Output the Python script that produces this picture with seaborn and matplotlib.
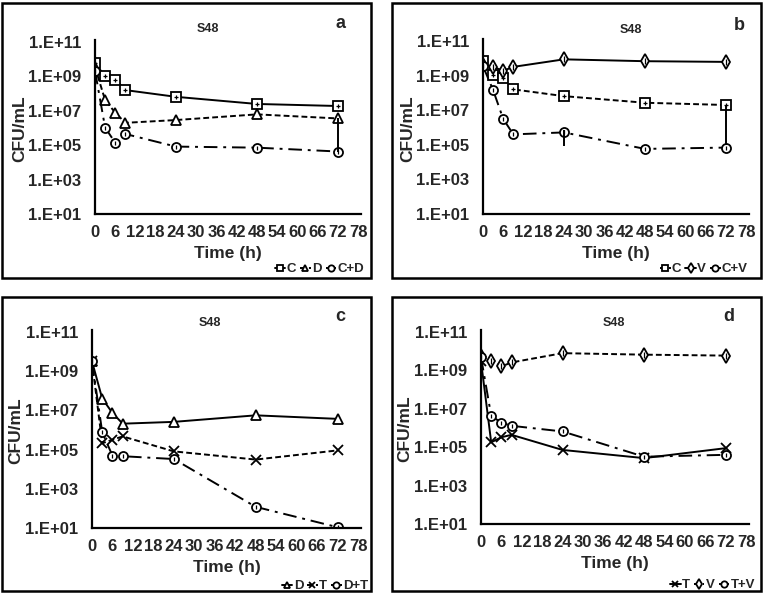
import numpy as np
import pandas as pd
import seaborn as sns
import matplotlib.pyplot as plt
from matplotlib.patches import Rectangle
from matplotlib.ticker import FixedLocator, FixedFormatter

# sampling times (h)
times = [0, 3, 6, 9, 24, 48, 72]

# panel a
a_C = [6.0e9, 1.0e9, 6.6e8, 1.6e8, 6.5e7, 2.5e7, 1.9e7]
a_D = [3.5e9, 4.2e7, 7.8e6, 2.0e6, 2.9e6, 6.2e6, 3.6e6]
a_CD = [2.1e9, 1.05e6, 1.4e5, 4.5e5, 8.3e4, 7.2e4, 4.3e4]
a_CD_err_up = [0, 0, 0, 0, 0, 0, 3.56e6]

# panel b
b_C = [6.8e9, 1.05e9, 7.4e8, 1.6e8, 6.5e7, 2.7e7, 2.0e7]
b_V = [4.0e9, 3.2e9, 1.9e9, 3.2e9, 8.7e9, 6.8e9, 6.2e9]
b_CV = [3.5e9, 1.45e8, 3.1e6, 4.0e5, 5.2e5, 5.8e4, 6.9e4]
b_CV_err_lo = [0, 0, 0, 0, 4.3e5, 0, 0]
b_CV_err_up = [0, 0, 0, 0, 1.8e5, 0, 0]
b_C_err_lo = [0, 0, 0, 0, 0, 0, 1.99e7]

# panel c
c_D = [3.2e9, 4.0e7, 7.4e6, 2.1e6, 2.6e6, 5.6e6, 3.7e6]
c_T = [3.2e9, 2.1e5, 3.2e5, 4.7e5, 8.1e4, 3.1e4, 9.1e4]
c_DT = [3.2e9, 7.6e5, 4.9e4, 4.6e4, 3.3e4, 1.2e2, 1.1e1]

# panel d
d_V = [5.4e9, 3.0e9, 1.6e9, 2.6e9, 7.9e9, 6.6e9, 5.9e9]
d_T = [3.0e9, 1.8e5, 3.3e5, 4.4e5, 7.2e4, 2.7e4, 8.9e4]
d_TV = [5.0e9, 4.3e6, 1.9e6, 1.3e6, 6.6e5, 3.2e4, 4.0e4]

ytick_vals = [1e1, 1e3, 1e5, 1e7, 1e9, 1e11]
ytick_labels = ["1.E+01", "1.E+03", "1.E+05", "1.E+07", "1.E+09", "1.E+11"]
xtick_vals = list(range(0, 79, 6))

sns.set_style("white")
plt.rcParams['font.family'] = ['Liberation Sans', 'DejaVu Sans']

W, H = 764, 593
fig = plt.figure(figsize=(W / 100, H / 100), dpi=100)

def px(x, y):
    return x / W, 1 - y / H

SOLID = '-'
DASH = (0, (3.0, 1.6))
DASHDOT = (0, (7, 3, 1.5, 3))

# small mark drawn inside the open marker, like the Excel symbols
INNER = {"s": "+", "o": "|", "d": "|", "^": None, "x": None}

def series(ax, vals, label, marker, ls, ms=6.5):
    df = pd.DataFrame({"Time": times, "CFU": vals})
    sns.lineplot(data=df, x="Time", y="CFU", ax=ax, color="black", linestyle=ls,
                 linewidth=1.4, marker=marker, markersize=ms, markerfacecolor="white",
                 markeredgecolor="black", markeredgewidth=1.3, label=label,
                 errorbar=None, legend=False)
    if INNER[marker]:
        ax.plot(times, vals, linestyle="none", marker=INNER[marker], markersize=ms * 0.55,
                markeredgecolor="black", markeredgewidth=0.9)

def setup(ax, S48_xy, letter, letter_xy, leg_xy):
    ax.set_yscale("log")
    ax.set_ylim(10, 1.3e11)
    ax.set_xlim(0, 79)
    ax.yaxis.set_major_locator(FixedLocator(ytick_vals))
    ax.yaxis.set_major_formatter(FixedFormatter(ytick_labels))
    ax.yaxis.set_minor_locator(FixedLocator([]))
    ax.set_xticks(xtick_vals)
    ax.tick_params(axis="both", length=0, labelsize=12)
    ax.tick_params(axis="y", pad=10)
    ax.tick_params(axis="x", pad=8)
    for lab in ax.get_xticklabels() + ax.get_yticklabels():
        lab.set_fontweight("bold")
    for s in ["top", "right"]:
        ax.spines[s].set_visible(False)
    for s in ["left", "bottom"]:
        ax.spines[s].set_color("black")
        ax.spines[s].set_linewidth(1.6)
    ax.set_facecolor("none")
    ax.set_xlabel("Time (h)", fontsize=12.5, fontweight="bold", labelpad=4)
    ax.set_ylabel("CFU/mL", fontsize=12.5, fontweight="bold")
    ax.yaxis.set_label_coords(-0.255, 0.49)
    ax.grid(False)
    fig.text(*px(*S48_xy), "S48", fontsize=9, fontweight="bold", ha="center", va="center")
    fig.text(*px(*letter_xy), letter, fontsize=13, fontweight="bold", ha="center", va="center")
    h, l = ax.get_legend_handles_labels()
    ax.legend(h, l, loc="center right", bbox_to_anchor=px(*leg_xy),
              bbox_transform=fig.transFigure, ncol=3, frameon=False,
              handlelength=0.8, handletextpad=0.1, columnspacing=0.3,
              borderpad=0, borderaxespad=0, markerscale=0.7,
              prop={"weight": "bold", "size": 9.5})

def box(x0, y0, x1, y1):
    fig.patches.append(Rectangle(px(x0, y1), (x1 - x0) / W, (y1 - y0) / H,
                                 transform=fig.transFigure, fill=False,
                                 edgecolor="black", linewidth=1.8))

# panel boxes
box(2, 3, 371, 278)
box(392, 3, 761, 278)
box(2, 297, 371, 591)
box(392, 297, 761, 591)

# axes positions (pixel based)
def make_ax(x0, x78, y11, y1):
    per_dec = (y1 - y11) / 10.0
    top = y11 - per_dec * np.log10(1.3)
    l, b = px(x0, y1)
    width = (x78 - x0) / W * 79 / 78
    height = (y1 - top) / H
    return fig.add_axes([l, b, width, height])

ax_a = make_ax(95, 358, 42, 214)
ax_b = make_ax(483, 746, 41, 214)
ax_c = make_ax(92, 358, 332, 528)
ax_d = make_ax(481, 746, 332, 524)

# a
series(ax_a, a_C, "C", "s", SOLID)
series(ax_a, a_D, "D", "^", DASH)
series(ax_a, a_CD, "C+D", "o", DASHDOT)
ax_a.errorbar(times, a_CD, yerr=[np.zeros(7), a_CD_err_up], fmt="none",
              ecolor="black", elinewidth=1.4, capsize=0)
setup(ax_a, (208, 29), "a", (340, 24), (364, 269))

# b
series(ax_b, b_C, "C", "s", DASH)
series(ax_b, b_V, "V", "d", SOLID, ms=7)
series(ax_b, b_CV, "C+V", "o", DASHDOT)
ax_b.errorbar(times, b_CV, yerr=[b_CV_err_lo, b_CV_err_up], fmt="none",
              ecolor="black", elinewidth=1.4, capsize=0)
ax_b.errorbar(times, b_C, yerr=[b_C_err_lo, np.zeros(7)], fmt="none",
              ecolor="black", elinewidth=1.4, capsize=0)
setup(ax_b, (631, 30), "b", (739, 25), (748, 269))

# c
series(ax_c, c_D, "D", "^", SOLID)
series(ax_c, c_T, "T", "x", DASH)
series(ax_c, c_DT, "D+T", "o", DASHDOT)
setup(ax_c, (210, 323), "c", (340, 317), (368, 586))

# d
series(ax_d, d_T, "T", "x", SOLID)
series(ax_d, d_V, "V", "d", DASH, ms=7)
series(ax_d, d_TV, "T+V", "o", DASHDOT)
setup(ax_d, (614, 323), "d", (729, 317), (755, 585))

fig.savefig("out.png", dpi=100)
